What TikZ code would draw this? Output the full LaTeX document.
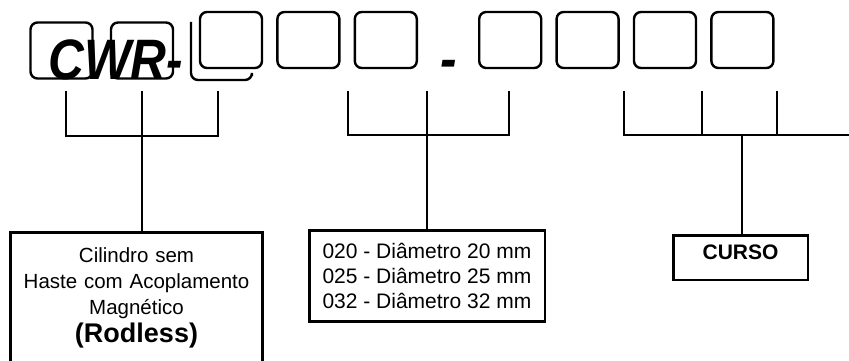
\documentclass[tikz,border=0pt]{standalone}
\usepackage{graphicx}
\usepackage{fontspec}
\setmainfont{Liberation Sans}
\usetikzlibrary{positioning}

\begin{document}
\begin{tikzpicture}[
  x=1pt, y=-1pt,
  node distance=13pt,
  digit/.style={
    draw,
    fill=white,
    line width=2.4pt,
    rounded corners=7pt,
    minimum width=62pt,
    minimum height=56pt
  },
  code/.style={
    font=\fontsize{57}{60}\selectfont\bfseries\itshape,
    inner sep=0pt
  },
  infobox/.style={
    draw,
    line width=2.5pt,
    inner xsep=12pt,
    inner ysep=13pt
  },
  bracket/.style={
    line width=2.5pt
  }
]
\useasboundingbox (0,0) rectangle (849,361);
\clip (0,0) rectangle (849,361);

% code boxes
\node[digit] (b1) at (61.5,50.5) {};
\node[digit] (b2) at (142,50.5) {};
\draw[line width=2.4pt, rounded corners=7pt] (252,76) -- (252,80) -- (191,80) -- (191,22);
\node[digit] (b4) at (231,40) {};
\node[digit, right=of b4] (b5) {};
\node[digit, right=of b5] (b6) {};
\node[digit, right=60pt of b6] (b7) {};
\node[digit, right=of b7] (b8) {};
\node[digit, right=of b8] (b9) {};
\node[digit, right=of b9] (b10) {};

\node[code, anchor=base west] (cwr) at (48,80) {\scalebox{0.87}[1]{CWR-}};
\node[code, anchor=base] (dash) at (449,78) {\scalebox{0.87}[1]{-}};

% descriptions
\node[infobox, anchor=north, text width=232pt, inner xsep=10pt, inner ysep=15pt,
  align=center, font=\fontsize{20.5}{26}\selectfont] (tipo) at (136.5,231) {
  Cilindro sem\\ Haste com Acoplamento\\ Magnético\\[2pt]
  {\fontsize{27}{28}\selectfont\bfseries (Rodless)}\\[30pt]\mbox{}
};

\node[infobox, anchor=north, minimum width=235.5pt, align=left,
  font=\fontsize{21}{25}\selectfont] (diam) at (427,229) {
  020 - Diâmetro 20 mm\\ 025 - Diâmetro 25 mm\\ 032 - Diâmetro 32 mm
};

\node[infobox, inner sep=0pt, minimum width=134.5pt, minimum height=44.5pt,
  text depth=10pt, font=\fontsize{21}{25}\selectfont\bfseries] (curso) at (740.5,257.5) {CURSO};

% brackets
\coordinate (l1) at (66,91);
\coordinate (l2) at (142,91);
\coordinate (l3) at (218,91);
\coordinate (lj) at (142,136);
\draw[bracket, line width=2pt] (l1) |- (lj) -| (l3);
\draw[bracket, line width=2pt] (l2) -- (lj |- tipo.north);

\coordinate (m1) at (348,91);
\coordinate (m2) at (427,91);
\coordinate (m3) at (509,91);
\coordinate (mj) at (427,135);
\draw[bracket] (m1) |- (mj) -| (m3);
\draw[bracket] (m2) -- (mj |- diam.north);

\coordinate (r1) at (624,91);
\coordinate (r2) at (702,91);
\coordinate (r3) at (777,91);
\coordinate (rj) at (742,135);
\coordinate (rend) at (852,135);
\draw[bracket] (r1) |- (rend);
\draw[bracket] (r2) -- (r2 |- rj);
\draw[bracket] (r3) -- (r3 |- rj);
\draw[bracket] (rj) -- (rj |- curso.north);

\end{tikzpicture}
\end{document}
